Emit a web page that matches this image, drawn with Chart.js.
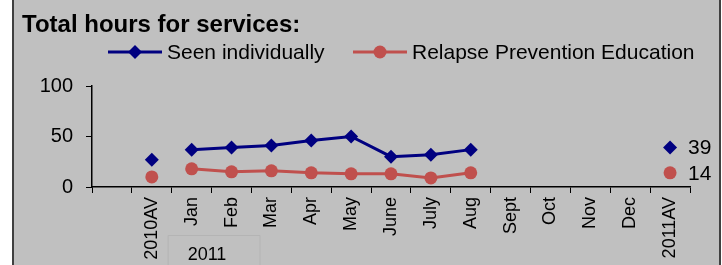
<!DOCTYPE html>
<html>
<head>
<meta charset="utf-8">
<script src="https://cdn.jsdelivr.net/npm/chart.js@4/dist/chart.umd.min.js"></script>
<style>
  html, body { margin: 0; padding: 0; background: #ffffff; }
  #frame { position: absolute; left: 12px; top: 0; width: 705px; height: 265px;
           background: #c0c0c0; border-left: 2px solid #404040; border-right: 2px solid #404040; }
  #c { position: absolute; left: 0; top: 0; }
</style>
</head>
<body>
<div id="frame"></div>
<canvas id="c" width="722" height="265"></canvas>
<script>
// ---- data ----
const titleText = 'Total hours for services:';
const categories = ['', '2010AV', 'Jan', 'Feb', 'Mar', 'Apr', 'May', 'June', 'July', 'Aug', 'Sept', 'Oct', 'Nov', 'Dec', '2011AV'];
const groupLabel = ['2011'];
const seenLabel = 'Seen individually';
const relapseLabel = 'Relapse Prevention Education';
const seenMonthly   = [null, null, 37, 39, 41, 46, 50, 30, 32, 37, null, null, null, null, null];
const relapseMonthly = [null, null, 18, 15, 16, 14, 13, 13, 9, 14, null, null, null, null, null];
const seenAverages   = [null, 27, null, null, null, null, null, null, null, null, null, null, null, null, 39];
const relapseAverages = [null, 10, null, null, null, null, null, null, null, null, null, null, null, null, 14];
const yTicks = [0, 50, 100];

const BLUE = '#000080';
const RED = '#C0504D';
const FONT = '"Liberation Sans", Arial, sans-serif';

const overlay = {
  id: 'overlay',
  afterDraw(chart) {
    const ctx = chart.ctx;
    const xs = chart.scales.x;
    ctx.save();
    // title
    ctx.fillStyle = '#000';
    ctx.font = 'bold 24px ' + FONT;
    ctx.textAlign = 'left';
    ctx.textBaseline = 'alphabetic';
    ctx.fillText(titleText, 22, 32);

    // legend
    const items = [
      { label: seenLabel, color: BLUE, style: 'diamond', x0: 108 },
      { label: relapseLabel, color: RED, style: 'circle', x0: 353 }
    ];
    const ly = 52;
    ctx.font = '21px ' + FONT;
    ctx.textBaseline = 'middle';
    items.forEach(it => {
      ctx.strokeStyle = it.color;
      ctx.fillStyle = it.color;
      ctx.lineWidth = 3;
      ctx.beginPath();
      ctx.moveTo(it.x0, ly);
      ctx.lineTo(it.x0 + 54, ly);
      ctx.stroke();
      const cx = it.x0 + 27;
      ctx.beginPath();
      if (it.style === 'diamond') {
        ctx.moveTo(cx, ly - 7); ctx.lineTo(cx + 7, ly); ctx.lineTo(cx, ly + 7); ctx.lineTo(cx - 7, ly);
        ctx.closePath();
      } else {
        ctx.arc(cx, ly, 6.5, 0, Math.PI * 2);
      }
      ctx.fill();
      ctx.fillStyle = '#000';
      ctx.fillText(it.label, it.x0 + 59, ly + 1);
    });

    // data labels on last average points
    ctx.font = '21px ' + FONT;
    ctx.textAlign = 'left';
    ctx.textBaseline = 'middle';
    ctx.fillStyle = '#000';
    chart.data.datasets.forEach((ds, i) => {
      if (!ds.isAverage) return;
      const meta = chart.getDatasetMeta(i);
      const last = ds.data.length - 1;
      const pt = meta.data[last];
      if (pt && ds.data[last] != null) ctx.fillText(String(ds.data[last]), pt.x + 18, pt.y + 1);
    });

    // group label box under Jan-Feb
    const pJan = xs.getPixelForValue(categories.indexOf('Jan'));
    const pFeb = xs.getPixelForValue(categories.indexOf('Feb'));
    const bx0 = pJan - 24, bx1 = pFeb + 28, by0 = 235;
    ctx.strokeStyle = '#b4b4b4';
    ctx.lineWidth = 1;
    ctx.beginPath();
    ctx.moveTo(bx0 + 0.5, 266);
    ctx.lineTo(bx0 + 0.5, by0 + 0.5);
    ctx.lineTo(bx1 + 0.5, by0 + 0.5);
    ctx.lineTo(bx1 + 0.5, 266);
    ctx.stroke();
    ctx.fillStyle = '#000';
    ctx.font = '18px ' + FONT;
    ctx.textAlign = 'left';
    ctx.textBaseline = 'alphabetic';
    ctx.fillText(groupLabel[0], bx0 + 20, 260);
    ctx.restore();
  }
};

new Chart(document.getElementById('c'), {
  type: 'line',
  data: {
    labels: categories,
    datasets: [
      { label: seenLabel, data: seenMonthly, borderColor: BLUE, backgroundColor: BLUE,
        borderWidth: 3, pointStyle: 'rectRot', pointRadius: 7, pointBorderWidth: 0, tension: 0, spanGaps: false },
      { label: relapseLabel, data: relapseMonthly, borderColor: RED, backgroundColor: RED,
        borderWidth: 3, pointStyle: 'circle', pointRadius: 6.5, pointBorderWidth: 0, tension: 0, spanGaps: false },
      { label: seenLabel + ' avg', isAverage: true, data: seenAverages, showLine: false, borderColor: BLUE, backgroundColor: BLUE,
        pointStyle: 'rectRot', pointRadius: 7, pointBorderWidth: 0 },
      { label: relapseLabel + ' avg', isAverage: true, data: relapseAverages, showLine: false, borderColor: RED, backgroundColor: RED,
        pointStyle: 'circle', pointRadius: 6.5, pointBorderWidth: 0 }
    ]
  },
  options: {
    responsive: false,
    animation: false,
    events: [],
    devicePixelRatio: 1,
    layout: { padding: { top: 86, left: 0, right: 32, bottom: 0 } },
    plugins: { legend: { display: false }, title: { display: false }, tooltip: { enabled: false } },
    scales: {
      x: {
        type: 'category',
        offset: true,
        grid: { offset: true, drawOnChartArea: false, drawTicks: true, tickLength: 6, color: '#000', lineWidth: 1 },
        border: { display: true, color: '#000', width: 1.5 },
        ticks: { autoSkip: false, minRotation: 90, maxRotation: 90, padding: 4, color: '#000',
                 font: { family: FONT, size: 18 } },
        afterFit(s) { s.height = 78; }
      },
      y: {
        min: 0, max: 100,
        afterBuildTicks(s) { s.ticks = yTicks.map(v => ({ value: v })); },
        grid: { drawOnChartArea: false, drawTicks: true, tickLength: 6, color: '#000', lineWidth: 1 },
        border: { display: true, color: '#000', width: 1.5 },
        ticks: { padding: 13, color: '#000', font: { family: FONT, size: 20 } },
        afterFit(s) { s.width = 92; }
      }
    }
  },
  plugins: [overlay]
});
</script>
</body>
</html>
